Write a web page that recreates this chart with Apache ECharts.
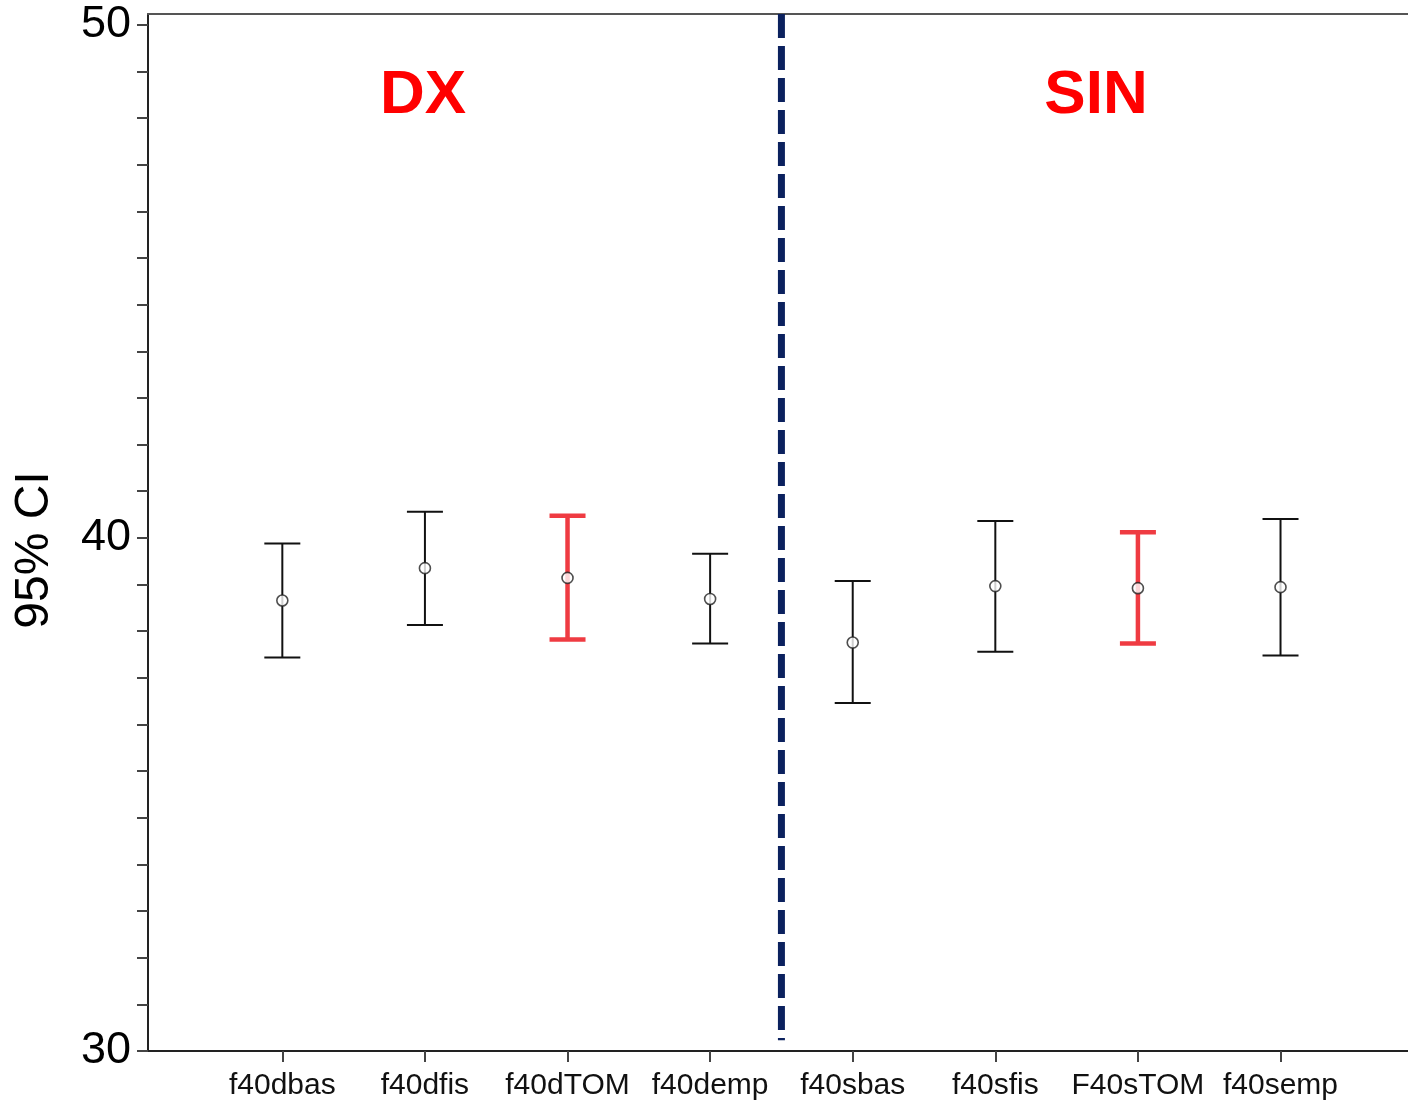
<!DOCTYPE html>
<html>
<head>
<meta charset="utf-8">
<title>95% CI</title>
<script src="https://cdn.jsdelivr.net/npm/echarts@6/dist/echarts.min.js"></script>
<style>
  html, body { margin: 0; padding: 0; background: #ffffff; }
  #chart { width: 1408px; height: 1103px; }
</style>
</head>
<body>
<div id="chart"></div>
<script>
// Variables on the x axis (DX block, then SIN block)
const categories = ['f40dbas', 'f40dfis', 'f40dTOM', 'f40demp', 'f40sbas', 'f40sfis', 'F40sTOM', 'f40semp'];
// Mean and 95% confidence bounds per variable
const means = [38.78, 39.41, 39.22, 38.81, 37.96, 39.06, 39.02, 39.04];
const upper = [39.89, 40.51, 40.43, 39.69, 39.16, 40.33, 40.11, 40.37];
const lower = [37.67, 38.30, 38.02, 37.94, 36.78, 37.78, 37.94, 37.71];
// Labelled y values and group headings
const yTickLabels = [30, 40, 50];
const groupLabels = ['DX', 'SIN'];
// Divider between the two groups (x position, between 4th and 5th variable)
const dividerX = 4.5;

const FONT = '"Liberation Sans", Arial, Helvetica, sans-serif';
const Y_MIN = 30, Y_MAX = 50.21;
const X_MIN = 0.058, X_MAX = 8.894;

// Minor tick marks: 11 steps per 10 units
const yTicks = [];
for (let k = 0; k <= 22; k++) yTicks.push(Y_MIN + k * 10 / 11);

const xs = categories.map((_, i) => i + 1);
const barData = xs.map((x, i) => [x, lower[i], upper[i], means[i]]);
const meanData = xs.map((x, i) => [x, means[i]]);

const chart = echarts.init(document.getElementById('chart'), null, { renderer: 'canvas' });

function renderErrorBar(params, api) {
  const x = api.value(0);
  const lo = api.coord([x, api.value(1)]);
  const hi = api.coord([x, api.value(2)]);
  const isTom = /TOM/.test(categories[params.dataIndex]);
  const color = isTom ? '#ef3b42' : '#111111';
  const lw = isTom ? 4.5 : 2;
  const half = 18;
  const style = { stroke: color, lineWidth: lw, fill: null };
  return {
    type: 'group',
    children: [
      { type: 'line', shape: { x1: hi[0], y1: hi[1], x2: lo[0], y2: lo[1] }, style },
      { type: 'line', shape: { x1: hi[0] - half, y1: hi[1], x2: hi[0] + half, y2: hi[1] }, style },
      { type: 'line', shape: { x1: lo[0] - half, y1: lo[1], x2: lo[0] + half, y2: lo[1] }, style }
    ]
  };
}

const option = {
  animation: false,
  backgroundColor: '#ffffff',
  grid: { left: 148, right: 0, top: 14, bottom: 52 },
  xAxis: [
    {
      type: 'value',
      min: X_MIN,
      max: X_MAX,
      splitLine: { show: false },
      axisLine: { show: true, onZero: false, lineStyle: { color: '#222', width: 2 } },
      axisTick: { show: true, customValues: xs, length: 11, lineStyle: { color: '#444', width: 2 } },
      axisLabel: {
        customValues: xs,
        margin: 20,
        fontFamily: FONT,
        fontSize: 30,
        color: '#111',
        formatter: v => categories[Math.round(v) - 1] || ''
      }
    },
    {
      type: 'value',
      position: 'top',
      min: X_MIN,
      max: X_MAX,
      splitLine: { show: false },
      axisLine: { show: true, onZero: false, lineStyle: { color: '#555', width: 2 } },
      axisTick: { show: false },
      axisLabel: { show: false }
    }
  ],
  yAxis: {
    type: 'value',
    min: Y_MIN,
    max: Y_MAX,
    splitLine: { show: false },
    axisLine: { show: true, onZero: false, lineStyle: { color: '#222', width: 2 } },
    axisTick: { show: true, customValues: yTicks, length: 11, lineStyle: { color: '#444', width: 2 } },
    axisLabel: {
      customValues: yTickLabels,
      margin: 17,
      fontFamily: FONT,
      fontSize: 45,
      color: '#000'
    }
  },
  series: [
    {
      type: 'line',
      data: [[dividerX, Y_MAX], [dividerX, 30.21]],
      symbol: 'none',
      silent: true,
      lineStyle: { color: '#0b215e', width: 7, type: [24, 8] },
      z: 2
    },
    {
      type: 'custom',
      renderItem: renderErrorBar,
      data: barData,
      encode: { x: 0, y: [1, 2] },
      z: 3
    },
    {
      type: 'scatter',
      data: meanData,
      symbol: 'circle',
      symbolSize: 11,
      itemStyle: { color: '#ffffff', borderColor: '#222', borderWidth: 1.6 },
      z: 4
    }
  ],
  graphic: [
    {
      type: 'text',
      x: 423, y: 96,
      style: { text: groupLabels[0], fill: '#ff0000', font: 'bold 62px ' + FONT, align: 'center', verticalAlign: 'middle' }
    },
    {
      type: 'text',
      x: 1096, y: 96,
      style: { text: groupLabels[1], fill: '#ff0000', font: 'bold 62px ' + FONT, align: 'center', verticalAlign: 'middle' }
    },
    {
      type: 'text',
      x: 35, y: 550,
      rotation: Math.PI / 2,
      style: { text: '95% CI', fill: '#000', font: '48px ' + FONT, align: 'center', verticalAlign: 'middle' }
    }
  ]
};

chart.setOption(option);
</script>
</body>
</html>
